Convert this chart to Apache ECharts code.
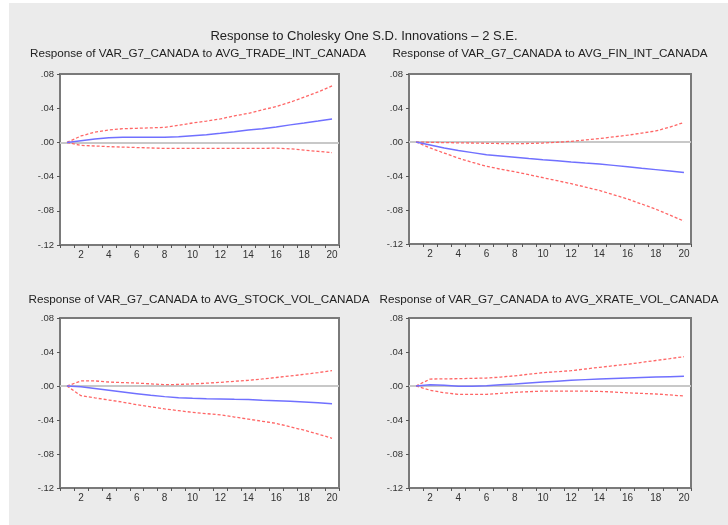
<!DOCTYPE html>
<html>
<head>
<meta charset="utf-8">
<script src="https://cdn.jsdelivr.net/npm/echarts@6/dist/echarts.min.js"></script>
<style>
  html, body { margin: 0; padding: 0; background: #ffffff; }
  #chart { width: 728px; height: 525px; }
</style>
</head>
<body>
<div id="chart"></div>
<script>
// Forecast horizon (periods)
const periods = ['1','2','3','4','5','6','7','8','9','10','11','12','13','14','15','16','17','18','19','20'];

// Panel titles
const mainTitle = 'Response to Cholesky One S.D. Innovations \u2013 2 S.E.';
const panelTitles = [
  'Response of VAR_G7_CANADA to AVG_TRADE_INT_CANADA',
  'Response of VAR_G7_CANADA to AVG_FIN_INT_CANADA',
  'Response of VAR_G7_CANADA to AVG_STOCK_VOL_CANADA',
  'Response of VAR_G7_CANADA to AVG_XRATE_VOL_CANADA'
];

// Y-axis ticks
const yTicks = [-0.12, -0.08, -0.04, 0.00, 0.04, 0.08];

// Impulse responses and +/- 2 S.E. bands
const tradeIrf   = [0, 0.002, 0.004, 0.0055, 0.006, 0.006, 0.006, 0.006, 0.0065, 0.0078, 0.009, 0.0106, 0.0125, 0.0145, 0.016, 0.018, 0.0205, 0.0227, 0.025, 0.0275];
const tradeUpper = [0, 0.0075, 0.012, 0.0145, 0.016, 0.0165, 0.017, 0.0176, 0.02, 0.0227, 0.025, 0.0275, 0.031, 0.034, 0.038, 0.042, 0.047, 0.053, 0.059, 0.066];
const tradeLower = [0, -0.0035, -0.0042, -0.005, -0.0055, -0.006, -0.0065, -0.007, -0.007, -0.007, -0.007, -0.007, -0.007, -0.007, -0.007, -0.0067, -0.0075, -0.009, -0.0105, -0.012];

const finIrf   = [0, -0.0035, -0.007, -0.010, -0.0125, -0.015, -0.0165, -0.018, -0.0195, -0.0208, -0.022, -0.0235, -0.0248, -0.026, -0.0275, -0.029, -0.031, -0.0325, -0.034, -0.036];
const finUpper = [0, -0.0004, -0.0007, -0.001, -0.0012, -0.0015, -0.0018, -0.002, -0.0017, -0.0012, -0.0003, 0.0008, 0.0023, 0.004, 0.006, 0.008, 0.0105, 0.013, 0.0175, 0.023];
const finLower = [0, -0.007, -0.013, -0.019, -0.024, -0.0286, -0.032, -0.035, -0.0385, -0.042, -0.0455, -0.049, -0.053, -0.057, -0.062, -0.067, -0.073, -0.079, -0.086, -0.093];

const stockIrf   = [0, -0.001, -0.003, -0.005, -0.007, -0.009, -0.011, -0.0125, -0.0137, -0.0145, -0.015, -0.0153, -0.0157, -0.016, -0.0167, -0.0173, -0.018, -0.0188, -0.0198, -0.021];
const stockUpper = [0, 0.006, 0.006, 0.0047, 0.004, 0.0035, 0.0025, 0.0016, 0.0018, 0.0024, 0.0033, 0.0043, 0.0055, 0.0067, 0.0083, 0.010, 0.0118, 0.0137, 0.0158, 0.018];
const stockLower = [0, -0.0114, -0.014, -0.0165, -0.019, -0.022, -0.0245, -0.027, -0.029, -0.031, -0.0325, -0.034, -0.0365, -0.039, -0.0415, -0.044, -0.048, -0.052, -0.0565, -0.0615];

const xrateIrf   = [0, 0.0015, 0.0008, -0.0004, -0.0004, 0.0004, 0.0014, 0.0024, 0.0036, 0.0047, 0.0057, 0.0067, 0.0075, 0.0082, 0.0088, 0.0094, 0.010, 0.0106, 0.011, 0.0114];
const xrateUpper = [0, 0.0082, 0.0084, 0.0086, 0.009, 0.0094, 0.0105, 0.012, 0.0138, 0.0157, 0.0168, 0.018, 0.020, 0.022, 0.0238, 0.0255, 0.0278, 0.030, 0.0322, 0.0345];
const xrateLower = [0, -0.005, -0.008, -0.0098, -0.0099, -0.0098, -0.0087, -0.0075, -0.0067, -0.006, -0.006, -0.006, -0.0061, -0.0063, -0.0071, -0.008, -0.0087, -0.0094, -0.0105, -0.0118];

const panels = [
  { irf: tradeIrf, up: tradeUpper, lo: tradeLower },
  { irf: finIrf,   up: finUpper,   lo: finLower },
  { irf: stockIrf, up: stockUpper, lo: stockLower },
  { irf: xrateIrf, up: xrateUpper, lo: xrateLower }
];

const grids = [
  { left: 60,  top: 74,  width: 279, height: 171 },
  { left: 409, top: 74,  width: 282, height: 170 },
  { left: 60,  top: 318, width: 279, height: 170 },
  { left: 409, top: 318, width: 282, height: 170 }
];
const titleSpots = [
  { x: 193, y: 43 },
  { x: 545, y: 43 },
  { x: 194, y: 289 },
  { x: 544, y: 289 }
];

const fontFam = '"Liberation Sans", Arial, sans-serif';

function fmtTick(v) {
  if (Math.abs(v) < 1e-9) return '.00';
  const s = Math.abs(v).toFixed(2).replace(/^0/, '');
  return (v < 0 ? '-' : '') + s;
}

const option = {
  animation: false,
  backgroundColor: '#ffffff',
  graphic: [{
    type: 'rect', z: -10, silent: true,
    shape: { x: 9, y: 3, width: 719, height: 522 },
    style: { fill: '#ebebeb' }
  }],
  title: [{
    text: mainTitle, left: 'center', top: 25,
    textStyle: { fontFamily: fontFam, fontSize: 13, fontWeight: 'normal', color: '#222' }
  }].concat(panelTitles.map((t, i) => ({
    text: t, left: titleSpots[i].x, top: titleSpots[i].y, textAlign: 'center',
    textStyle: { fontFamily: fontFam, fontSize: 11.7, fontWeight: 'normal', color: '#222' }
  }))),
  grid: grids.map(g => Object.assign({
    show: true, backgroundColor: '#ffffff', borderColor: '#7a7a7a', borderWidth: 2
  }, g)),
  xAxis: grids.map((g, i) => ({
    type: 'category', gridIndex: i, data: periods, boundaryGap: true,
    axisLine: { show: true, onZero: false, lineStyle: { color: '#7a7a7a', width: 2 } },
    axisTick: { show: true, interval: 0, length: 3, lineStyle: { color: '#555', width: 1 } },
    axisLabel: {
      interval: (idx) => idx % 2 === 1,
      fontFamily: fontFam, fontSize: 10, color: '#333', margin: 5
    },
    splitLine: { show: false }
  })),
  yAxis: grids.map((g, i) => ({
    type: 'value', gridIndex: i,
    min: yTicks[0], max: yTicks[yTicks.length - 1], interval: 0.04,
    axisLine: { show: true, lineStyle: { color: '#7a7a7a', width: 2 } },
    axisTick: { show: true, length: 3, lineStyle: { color: '#555', width: 1 } },
    axisLabel: { formatter: fmtTick, fontFamily: fontFam, fontSize: 9.5, color: '#333', margin: 6 },
    splitLine: { show: false }
  })),
  series: []
};

panels.forEach((p, i) => {
  option.series.push({
    type: 'line', xAxisIndex: i, yAxisIndex: i, data: p.irf,
    symbol: 'none', smooth: false, z: 4,
    lineStyle: { color: '#7070ff', width: 1.5 },
    markLine: {
      silent: true, symbol: 'none', label: { show: false }, z: 1,
      lineStyle: { color: '#c8c8c8', width: 2, type: 'solid' },
      data: [{ yAxis: 0 }]
    }
  });
  [p.up, p.lo].forEach(band => {
    option.series.push({
      type: 'line', xAxisIndex: i, yAxisIndex: i, data: band,
      symbol: 'none', smooth: false, z: 3,
      lineStyle: { color: '#ff6666', width: 1.3, type: [3, 2] }
    });
  });
});

const chart = echarts.init(document.getElementById('chart'), null, { renderer: 'canvas' });
chart.setOption(option);
</script>
</body>
</html>
